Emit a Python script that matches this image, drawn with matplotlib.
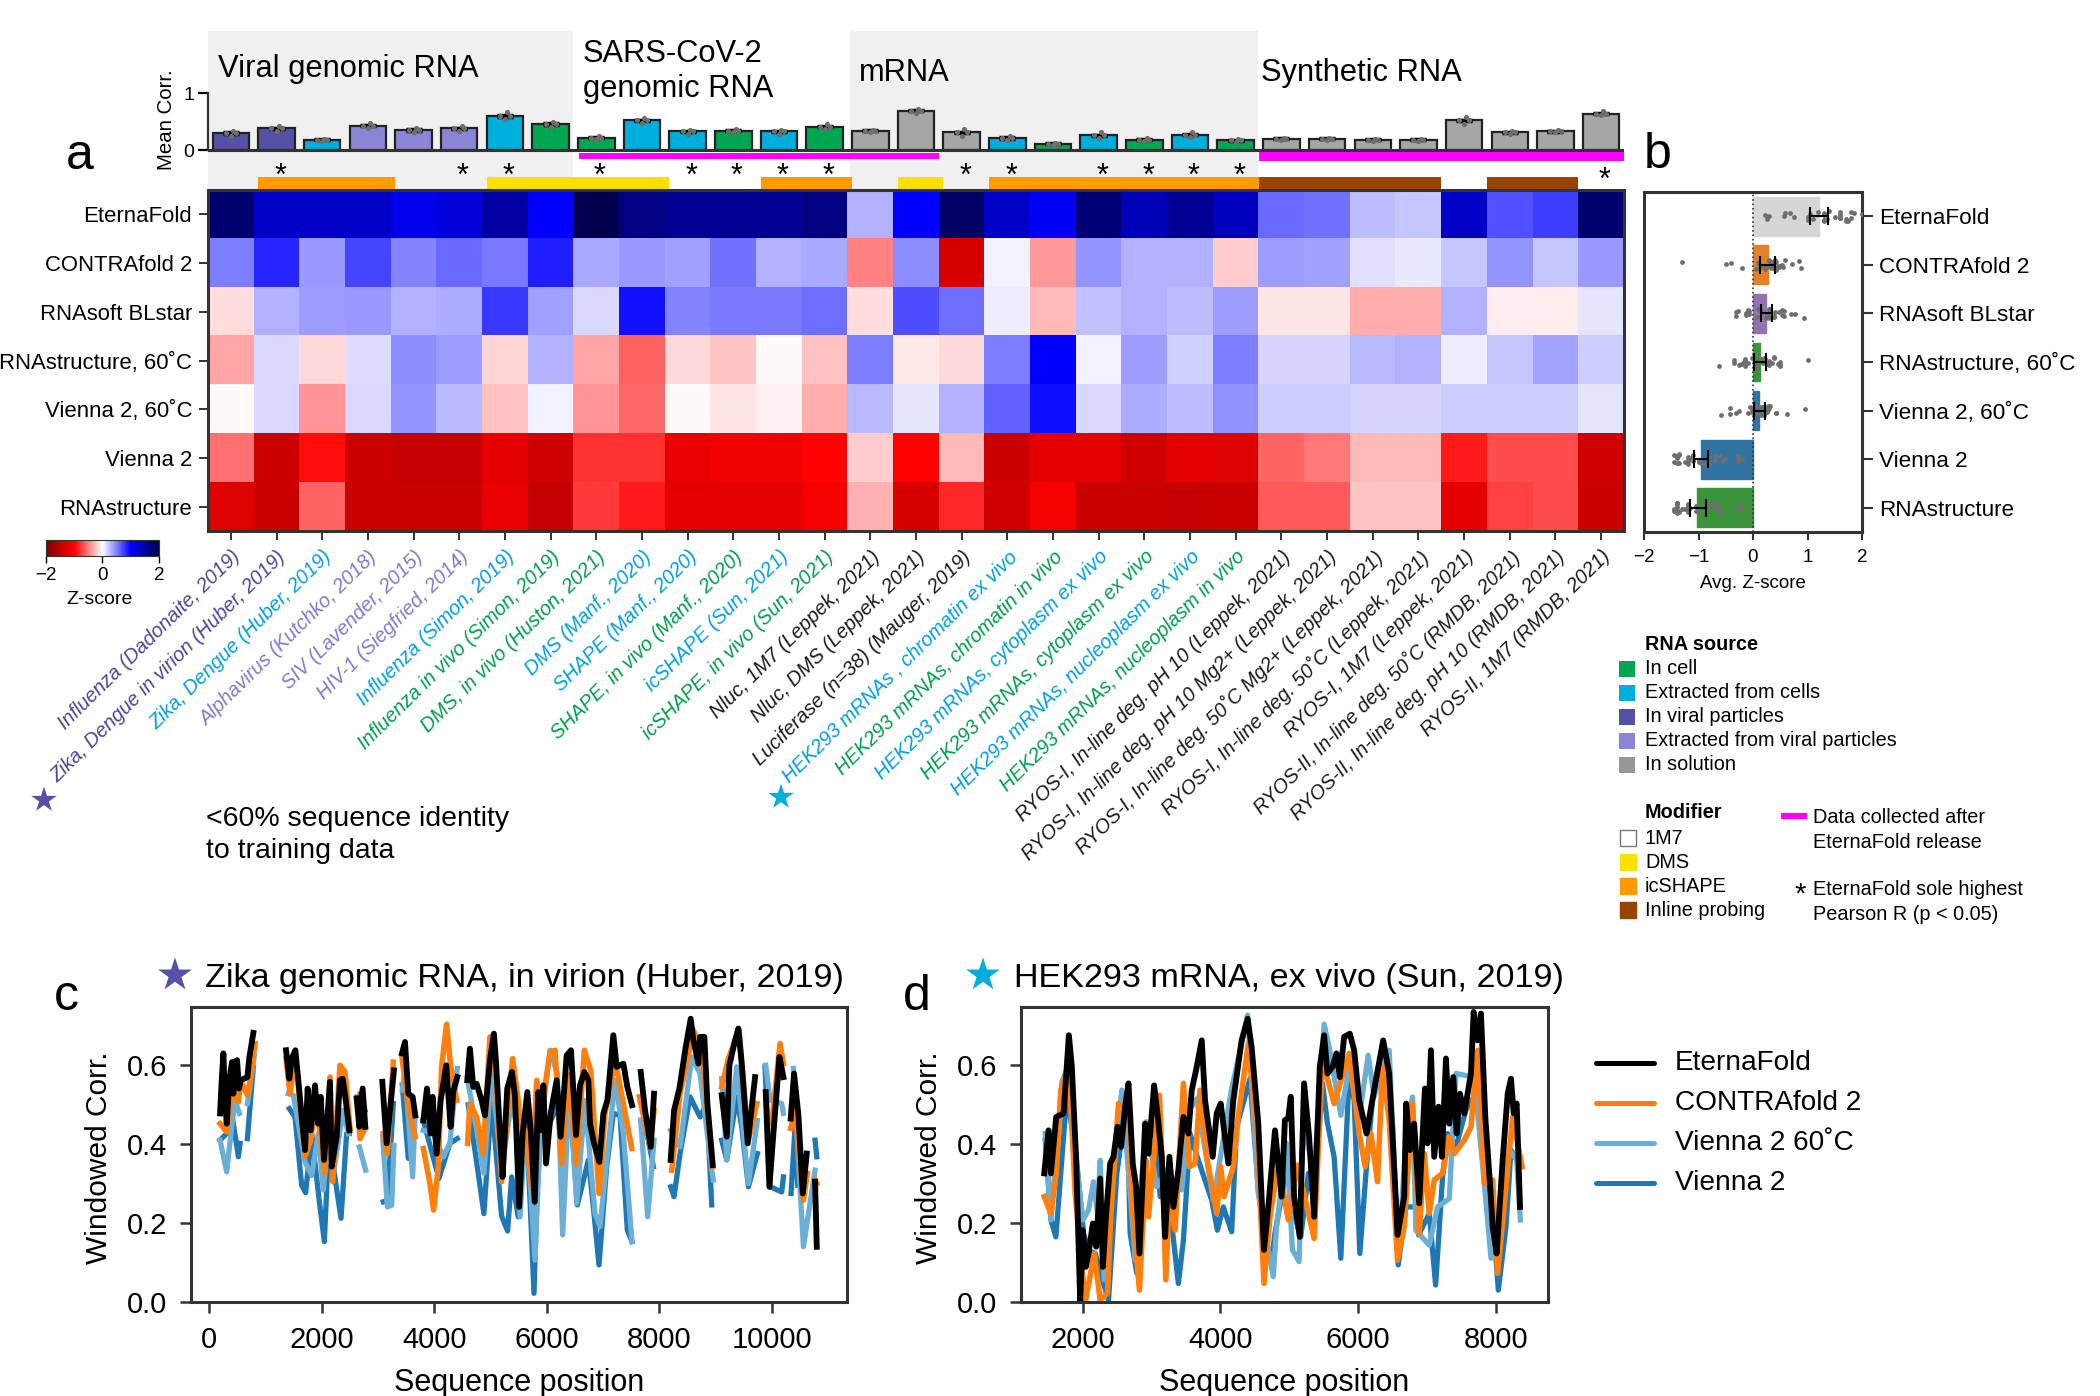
# -*- coding: utf-8 -*-
"""Benchmark summary figure: heatmap, average scores and windowed correlation."""
import numpy as np
from matplotlib import pyplot as plt
from matplotlib.patches import Rectangle
from matplotlib.transforms import ScaledTranslation

nan = float('nan')

packages = ['EternaFold', 'CONTRAfold 2', 'RNAsoft BLstar', 'RNAstructure, 60\u02daC',
            'Vienna 2, 60\u02daC', 'Vienna 2', 'RNAstructure']

datasets = [
    'Influenza (Dadonaite, 2019)', 'Zika, Dengue in virion (Huber, 2019)',
    'Zika, Dengue (Huber, 2019)', 'Alphavirus (Kutchko, 2018)',
    'SIV (Lavender, 2015)', 'HIV-1 (Siegfried, 2014)',
    'Influenza (Simon, 2019)', 'Influenza in vivo (Simon, 2019)',
    'DMS, in vivo (Huston, 2021)', 'DMS (Manf., 2020)', 'SHAPE (Manf., 2020)',
    'SHAPE, in vivo (Manf., 2020)', 'icSHAPE (Sun, 2021)',
    'icSHAPE, in vivo (Sun, 2021)', 'Nluc, 1M7 (Leppek, 2021)',
    'Nluc, DMS (Leppek, 2021)', 'Luciferase (n=38) (Mauger, 2019)',
    'HEK293 mRNAs , chromatin ex vivo', 'HEK293 mRNAs, chromatin in vivo',
    'HEK293 mRNAs, cytoplasm ex vivo', 'HEK293 mRNAs, cytoplasm ex vivo',
    'HEK293 mRNAs, nucleoplasm ex vivo', 'HEK293 mRNAs, nucleoplasm in vivo',
    'RYOS-I, In-line deg. pH 10 (Leppek, 2021)',
    'RYOS-I, In-line deg. pH 10 Mg2+ (Leppek, 2021)',
    'RYOS-I, In-line deg. 50\u02daC Mg2+ (Leppek, 2021)',
    'RYOS-I, In-line deg. 50\u02daC (Leppek, 2021)',
    'RYOS-I, 1M7 (Leppek, 2021)',
    'RYOS-II, In-line deg. 50\u02daC (RMDB, 2021)',
    'RYOS-II, In-line deg. pH 10 (RMDB, 2021)',
    'RYOS-II, 1M7 (RMDB, 2021)',
]

sources = ['vir', 'vir', 'ext', 'evp', 'evp', 'evp', 'ext', 'cell', 'cell', 'ext',
           'ext', 'cell', 'ext', 'cell', 'sol', 'sol', 'sol', 'ext', 'cell', 'ext',
           'cell', 'ext', 'cell', 'sol', 'sol', 'sol', 'sol', 'sol', 'sol', 'sol',
           'sol']
modifiers = ['1M7', 'ic', 'ic', 'ic', '1M7', '1M7', 'DMS', 'DMS', 'DMS', 'DMS',
             '1M7', '1M7', 'ic', 'ic', '1M7', 'DMS', '1M7', 'ic', 'ic', 'ic', 'ic',
             'ic', 'ic', 'inl', 'inl', 'inl', 'inl', '1M7', 'inl', 'inl', '1M7']
after_release = [8, 9, 10, 11, 12, 13, 14, 15, 23, 24, 25, 26, 27, 28, 29, 30]
sole_highest = [1, 5, 6, 8, 10, 11, 12, 13, 16, 17, 19, 20, 21, 22, 30]

mean_corr = [.30, .38, .18, .43, .35, .38, .60, .46, .22, .52, .33, .34, .33, .41,
             .34, .69, .31, .21, .11, .26, .18, .27, .17, .20, .20, .18, .18, .52,
             .31, .33, .64]
corr_low = [.25, .33, .15, .38, .31, .33, .54, .41, .19, .48, .29, .31, .29, .37,
            .32, .65, .25, .17, .09, .22, .15, .23, .14, .17, .17, .16, .16, .46,
            .29, .31, .61]
corr_high = [.34, .43, .20, .48, .39, .43, .67, .50, .25, .56, .36, .37, .36, .45,
             .36, .73, .37, .24, .13, .31, .21, .32, .20, .22, .22, .20, .20, .58,
             .33, .35, .68]

z_eternafold = [1.8, 1.3, 1.3, 1.3, 1.1, 1.2, 1.5, 1.0, 2.0, 1.7, 1.6, 1.6, 1.6, 1.7,
                .3, 1.0, 1.85, 1.3, 1.05, 1.75, 1.4, 1.6, 1.35, .58, .56, .25, .22,
                1.3, .68, .76, 1.8]
z_contrafold = [.5, .85, .4, .72, .47, .58, .53, .88, .33, .4, .37, .55, .3, .33,
                -.5, .45, -1.3, .05, -.4, .42, .3, .3, -.2, .38, .36, .12, .09, .22,
                .42, .22, .4]
z_rnasoft = [-.13, .3, .38, .4, .3, .32, .77, .37, .15, .93, .48, .53, .53, .57,
             -.13, .7, .57, .07, -.27, .24, .3, .25, .38, -.1, -.1, -.32, -.32, .3,
             -.07, -.07, .1]
z_rnastructure_60 = [-.35, .15, -.15, .13, .45, .38, -.17, .3, -.35, -.62, -.15, -.22,
                     -.02, -.25, .5, -.09, -.15, .5, 1.0, .06, .38, .18, .5, .16, .16,
                     .27, .3, .07, .22, .35, .2]
z_vienna_60 = [-.02, .15, -.42, .15, .42, .27, -.25, .05, -.42, -.58, -.02, -.1, -.05,
               -.32, .27, .1, .3, .62, .95, .15, .32, .25, .43, .19, .19, .16, .16,
               .2, .2, .2, .1]
z_vienna = [-.55, -1.4, -.95, -1.4, -1.45, -1.45, -1.2, -1.35, -.8, -.8, -1.15, -1.1,
            -1.1, -1.0, -.2, -1.0, -.28, -1.4, -1.2, -1.2, -1.35, -1.2, -1.25, -.6,
            -.52, -.27, -.27, -.9, -.7, -.7, -1.35]
z_rnastructure = [-1.25, -1.4, -.6, -1.4, -1.4, -1.4, -1.15, -1.45, -.78, -.9, -1.2,
                  -1.2, -1.2, -1.05, -.3, -1.3, -.83, -1.35, -1.05, -1.4, -1.4, -1.45,
                  -1.4, -.65, -.65, -.22, -.22, -1.2, -.75, -.7, -1.4]

avg_z = [1.21, .27, .24, .12, .11, -.95, -1.02]
avg_z_low = [1.05, .12, .15, .02, .01, -1.08, -1.15]
avg_z_high = [1.37, .40, .35, .23, .22, -.82, -.87]
avg_z_colors = ['#d6d6d6', '#e1812c', '#9372b2', '#3a923a', '#3274a1', '#3274a1',
                '#3a923a']
strip_offsets = [.03, -.07, .08, -.02, .05, -.09, .01, .07, -.05, .09, -.03, .04, -.08,
                 .06, -.01, .02, -.06, .08, -.04, .1, -.1, .03, .06, -.07, .0, .05,
                 -.03, .09, -.06, .02, -.09]

# Panel c, Zika genomic RNA
c_black_x = [190, 219, 249, 279, 308, 356, 403, 427, 450, 492, 527, 557, 676, 711, 782,
             nan, 1363, 1422, 1464, 1529, 1582, 1653, 1701, 1748, 1802, 1879, 1932,
             1979, 2039, 2086, 2145, 2175, 2264, 2323, 2370, 2418, 2489, nan, 2619,
             2667, 2726, 2773, nan, 3076, 3153, 3212, 3283, nan, 3425, 3479, 3538,
             3615, 3662, nan, 3805, 3870, 3935, 3970, 4042, 4113, 4213, 4290, 4338, 4409,
             nan, 4587, 4634, 4693, 4753, 4842, 4901, 4990, 5061, 5096, 5168, 5215,
             5298, 5381, 5434, 5511, 5572, 5655, 5715, 5786, 5851, 5910, 5940, 5988,
             6071, 6177, 6248, 6355, 6432, 6521, 6592, 6669, 6741, 6770, 6841, 6936,
             7008, 7079, 7185, 7245, 7363, 7434, 7517, nan, 7672, 7749, 7850, 7909,
             nan, 8205, 8265, 8360, 8472, 8561, 8609, 8698, 8727, 8804, 8858, 8953,
             nan, 9113, 9202, 9249, 9350, 9409, 9468, 9575, 9706, nan, 9895, 9961,
             10032, 10139, 10210, nan, 10340, 10399, 10477, 10554, 10625, nan, 10773,
             10803]
c_black_y = [.478, .562, .63, .511, .452, .566, .608, .528, .608, .613, .541, .562, .57,
             .62, .682, nan, .638, .566, .617, .638, .562, .452, .385, .541, .435, .549,
             .452, .52, .36, .444, .558, .343, .419, .562, .566, .52, .435, nan, .516,
             .444, .541, .444, nan, .558, .402, .486, .587, nan, .63, .659, .528, .52,
             .473, nan, .46, .541, .427, .52, .376, .511, .6, .444, .534, .57, nan, .562,
             .642, .545, .553, .511, .473, .613, .68, .613, .427, .317, .541, .583,
             .524, .241, .427, .532, .435, .254, .532, .435, .549, .351, .478, .562,
             .419, .625, .638, .423, .549, .583, .562, .452, .402, .355, .478, .511,
             .676, .596, .604, .545, .499, nan, .583, .486, .393, .528, nan, .36, .486,
             .541, .646, .718, .663, .604, .672, .672, .503, .347, nan, .524, .419, .6,
             .663, .693, .604, .402, .57, nan, .532, .292, .427, .621, .57, nan, .465,
             .579, .473, .275, .376, nan, .305, .14]
c_orange_x = [190, 308, 397, 516, 557, 676, 723, 812, nan, 1363, 1434, 1529, 1701, 1802,
              1896, 2056, 2145, 2193, 2323, 2412, 2501, nan, 2637, 2679, 2767, nan, 3093,
              3165, 3271, nan, 3425, 3538, 3656, nan, 3805, 3923, 3988, 4071, 4130,
              4219, 4290, 4397, nan, 4593, 4634, 4753, 4871, 4990, 5061, 5197, 5393,
              5493, 5525, 5614, 5733, 5822, 5910, 6059, 6148, 6266, 6385, 6533, 6669,
              6782, 6930, 7037, 7215, 7363, 7512, nan, 7648, 7838, 7909, nan, 8223,
              8371, 8609, 8757, 8953, nan, 9113, 9231, 9421, 9587, 9735, nan, 10002,
              10150, 10210, nan, 10340, 10417, 10566, 10637, nan, 10773, 10803]
c_orange_y = [.452, .431, .537, .507, .56, .524, .562, .655, nan, .617, .528, .625,
              .368, .41, .511, .326, .57, .305, .6, .583, .44, nan, .52, .414, .44, nan,
              .427, .376, .608, nan, .62, .495, .419, nan, .389, .3, .233, .343, .596,
              .704, .6, .511, nan, .402, .503, .469, .376, .672, .637, .305, .617, .511,
              .452, .436, .292, .562, .486, .634, .638, .351, .575, .351, .638, .587,
              .275, .478, .613, .503, .389, nan, .52, .393, .486, nan, .334, .528, .689,
              .63, .343, nan, .545, .617, .69, .41, .503, nan, .452, .655, .604, nan,
              .44, .486, .258, .326, nan, .309, .3]
c_light_x = [190, 308, 397, 456, 533, nan, 676, 800, nan, 1404, 1493, 1701, 1820, 1938,
             2027, 2145, 2205, 2382, 2471, nan, 2667, 2780, nan, 3082, 3165, 3242, 3283,
             nan, 3431, 3479, 3615, 3656, nan, 3805, 3982, 4160, 4278, 4409, nan, 4605,
             4765, 4883, 5019, 5197, 5376, 5493, 5525, 5614, 5703, 5792, 5881, 6059,
             6189, 6284, 6403, 6533, 6681, 6859, 6948, 7215, 7363, 7517, nan, 7672, 7796,
             7909, nan, 8205, 8371, 8579, 8727, 8935, 8964, nan, 9113, 9202, 9380, 9587,
             9747, nan, 9895, 9973, 10180, 10210, nan, 10387, 10566, 10773]
c_light_y = [.41, .33, .444, .511, .478, nan, .503, .625, nan, .528, .524, .355, .32,
             .427, .284, .469, .326, .486, .427, nan, .393, .334, nan, .42, .241, .245,
             .397, nan, .537, .587, .317, .46, nan, .435, .427, .368, .402, .592, nan,
             .553, .427, .326, .587, .334, .511, .427, .216, .427, .309, .106, .427,
             .638, .579, .17, .545, .25, .511, .224, .191, .562, .427, .153, nan, .461,
             .216, .41, nan, .435, .393, .621, .579, .334, .309, nan, .566, .36, .596,
             .3, .46, nan, .6, .511, .503, .478, nan, .592, .14, .334]
c_blue_x = [190, 308, 397, 516, 545, nan, 676, 782, nan, 1422, 1523, 1641, 1712, 1820,
            1956, 2045, 2104, 2205, 2341, 2441, 2489, nan, 2690, 2767, nan, 3093, 3165,
            3271, nan, 3431, 3538, 3615, nan, 3805, 4083, 4278, 4409, nan, 4605, 4765,
            4883, 5019, 5197, 5304, 5376, 5493, 5525, 5632, 5703, 5774, 5822, 5881, 6296,
            6414, 6545, 6741, 6841, 6930, 7067, 7185, 7304, 7434, 7517, nan, 7689, 7808,
            7897, nan, 8205, 8265, 8371, 8549, 8727, 8846, 8935, nan, 9113, 9202, 9380,
            9468, 9587, 9747, nan, 9883, 9973, 10180, 10210, nan, 10346, 10417, 10465,
            nan, 10773, 10803]
c_blue_y = [.41, .427, .478, .368, .402, nan, .414, .596, nan, .49, .469, .296, .277,
            .427, .254, .153, .343, .343, .212, .427, .427, nan, .528, .486, nan, .254,
            .257, .503, nan, .55, .364, .393, nan, .46, .313, .402, .414, nan, .5, .343,
            .224, .511, .218, .18, .317, .216, .292, .469, .258, .022, .258, .402, .528,
            .511, .246, .36, .224, .094, .343, .478, .473, .182, .153, nan, .461, .41,
            .343, nan, .292, .267, .376, .52, .469, .503, .246, nan, .41, .36, .52, .444,
            .292, .376, nan, .596, .292, .279, .317, nan, .275, .444, .296, nan, .41, .368]

# Panel d, HEK293 mRNA
d_black_x = [1444, 1507, 1541, 1618, 1725, 1802, 1845, 1908, 1966, 2005, 2048, 2087, 2150,
             2198, 2256, 2295, 2343, 2401, 2449, 2507, 2560, 2618, 2667, 2729, 2777, 2826,
             2908, 2957, 3039, 3087, 3150, 3198, 3261, 3319, 3391, 3464, 3536, 3585, 3647,
             3730, 3778, 3889, 3947, 4005, 4116, 4188, 4309, 4396, 4454, 4551, 4633, 4696,
             4793, 4889, 4937, 4986, 5022, 5070, 5152, 5215, 5288, 5361, 5443, 5506, 5555,
             5628, 5685, 5734, 5797, 5879, 5942, 6015, 6121, 6257, 6363, 6450, 6547, 6571,
             6668, 6697, 6751, 6813, 6886, 6969, 7007, 7056, 7104, 7167, 7216, 7274, 7322,
             7380, 7429, 7477, 7540, 7637, 7676, 7734, 7782, 7845, 7913, 7952, 8010, 8097,
             8170, 8218, 8257, 8300, 8349]
d_black_y = [.326, .435, .326, .469, .478, .676, .596, .359, .0, .182, .089, .123, .199,
             .14, .313, .089, .224, .351, .368, .444, .393, .495, .554, .351, .292, .123,
             .452, .376, .549, .478, .368, .165, .368, .241, .334, .469, .427, .537, .587,
             .663, .511, .368, .478, .503, .351, .511, .663, .718, .646, .452, .132, .241,
             .435, .267, .461, .466, .52, .267, .165, .554, .419, .216, .596, .676, .579,
             .596, .63, .57, .672, .68, .638, .511, .427, .562, .663, .579, .258, .17,
             .267, .503, .385, .452, .25, .541, .402, .638, .368, .495, .368, .617, .452,
             .57, .427, .528, .478, .579, .735, .663, .731, .469, .3, .191, .123, .359,
             .528, .566, .478, .503, .241]
d_orange_x = [1444, 1541, 1618, 1686, 1802, 1893, 2039, 2135, 2169, 2256, 2362, 2411, 2522,
              2570, 2667, 2715, 2826, 2923, 2957, 3116, 3174, 3208, 3261, 3343, 3464, 3551,
              3633, 3705, 3802, 3947, 4005, 4053, 4188, 4260, 4406, 4536, 4633, 4720, 4841,
              4986, 5119, 5361, 5482, 5651, 5869, 6015, 6102, 6184, 6281, 6354, 6450, 6571,
              6668, 6789, 6886, 6959, 7032, 7104, 7225, 7322, 7395, 7540, 7637, 7734, 7831,
              7952, 8024, 8145, 8242, 8378]
d_orange_y = [.267, .224, .326, .537, .604, .275, .0, .089, .123, .005, .022, .224, .503,
              .486, .511, .258, .03, .359, .216, .524, .267, .056, .275, .182, .554, .343,
              .351, .537, .368, .224, .343, .267, .343, .469, .655, .41, .047, .216, .351,
              .208, .347, .161, .613, .503, .63, .427, .343, .427, .305, .596, .461, .106,
              .191, .503, .174, .376, .224, .309, .326, .419, .376, .41, .444, .638, .3,
              .309, .073, .292, .469, .343]
d_light_x = [1459, 1541, 1700, 1802, 1908, 2005, 2087, 2159, 2217, 2256, 2314, 2411, 2570,
             2715, 2763, 2923, 3077, 3213, 3440, 3560, 3657, 3899, 4164, 4396, 4551, 4696,
             4768, 4816, 4961, 5046, 5143, 5215, 5264, 5361, 5506, 5579, 5748, 5869, 6015,
             6145, 6232, 6354, 6450, 6547, 6596, 6693, 6789, 6837, 7032, 7153, 7322, 7419,
             7685, 7831, 7928, 8024, 8194, 8300, 8354]
d_light_y = [.427, .208, .558, .60, .359, .208, .233, .305, .224, .359, .056, .258, .537,
             .224, .106, .457, .292, .334, .284, .49, .515, .258, .541, .727, .275, .132,
             .064, .191, .402, .132, .102, .554, .402, .326, .704, .646, .473, .596, .469,
             .625, .52, .596, .638, .258, .132, .42, .52, .182, .144, .241, .262, .579,
             .57, .3, .111, .115, .385, .36, .208]
d_blue_x = [1459, 1541, 1613, 1773, 1908, 2015, 2087, 2183, 2304, 2377, 2498, 2643, 2691,
            2787, 2908, 3053, 3126, 3223, 3309, 3391, 3464, 3560, 3633, 3744, 3875, 3957,
            4043, 4164, 4237, 4430, 4551, 4647, 4744, 4792, 4986, 5070, 5167, 5278, 5361,
            5482, 5555, 5651, 5748, 5869, 5942, 6024, 6121, 6208, 6363, 6501, 6581, 6693,
            6837, 6877, 7032, 7124, 7225, 7298, 7419, 7564, 7734, 7831, 7952, 8034, 8145,
            8218, 8300, 8339]
d_blue_y = [.41, .208, .165, .528, .368, .174, .131, .123, .047, .005, .326, .511, .174,
            .073, .394, .444, .267, .334, .174, .047, .157, .427, .385, .326, .258, .182,
            .241, .178, .444, .566, .284, .157, .106, .174, .359, .224, .165, .326, .258,
            .554, .452, .368, .111, .575, .511, .123, .343, .511, .655, .444, .094, .241,
            .241, .17, .224, .043, .317, .427, .393, .486, .537, .334, .224, .03, .191,
            .385, .36, .343]

line_names = ['EternaFold', 'CONTRAfold 2', 'Vienna 2 60\u02daC', 'Vienna 2']
line_colors = ['black', '#ff7f0e', '#6baed6', '#1f78b4']

source_colors = {'cell': '#00a651', 'ext': '#00aedb', 'vir': '#5551a6', 'evp': '#8a85d4',
                 'sol': '#a6a6a6'}
label_colors = {'cell': '#009e4a', 'ext': '#00a0dc', 'vir': '#4a46a0', 'evp': '#7f7ad0',
                'sol': '#1a1a1a'}
modifier_colors = {'DMS': '#ffe100', 'ic': '#ff9a00', 'inl': '#964500'}
DARK = '#333333'
W, H = 2100, 1396

plt.rcParams['font.family'] = ['Liberation Sans', 'DejaVu Sans']
plt.rcParams['axes.linewidth'] = 2.2
plt.rcParams['axes.edgecolor'] = DARK


def px_axes(fig, left, top, right, bottom):
    """Add axes placed by their pixel edges."""
    return fig.add_axes([left / W, 1 - bottom / H, (right - left) / W, (bottom - top) / H])


def draw_bars(ax):
    """Draw the mean correlation bars with their annotation strips."""
    xpos = np.arange(len(mean_corr))
    ax.axvspan(-0.5, 7.5, color='#f0f0f0', lw=0, zorder=0)
    ax.axvspan(13.55, 22.48, color='#f0f0f0', lw=0, zorder=0)
    ax.bar(xpos, mean_corr, width=0.8, color=[source_colors[s] for s in sources],
           edgecolor='#222222', lw=1.6, zorder=2)
    ax.errorbar(xpos, mean_corr, yerr=0.012, fmt='none', ecolor='black', elinewidth=2,
                capsize=6, capthick=2.5, zorder=3)
    for i in xpos:
        ax.scatter([i - 0.11, i, i + 0.11, i + 0.05],
                   [mean_corr[i], corr_low[i], mean_corr[i], corr_high[i]],
                   s=14, color='#6e6e6e', lw=0, zorder=4)
    ax.axhline(0, color=DARK, lw=2.2, zorder=5)
    for i in after_release:
        start = i - 0.37 if i == 8 else i - 0.5
        low, high = (-0.16, -0.05) if i < 23 else (-0.19, -0.03)
        ax.add_patch(Rectangle((start, low), i + 0.5 - start, high - low, color='#ff00ff',
                               lw=0, zorder=3))
    for i, mod in enumerate(modifiers):
        if mod in modifier_colors:
            shift = 0.0 if mod == 'inl' else 0.1
            ax.add_patch(Rectangle((i - 0.5 + shift, -0.68), 1, 0.2, lw=0,
                                   zorder=4 if mod == 'inl' else 3,
                                   color=modifier_colors[mod]))
    for i in sole_highest:
        ypos = -0.54 if i == 30 else -0.47
        ax.text(i + 0.08, ypos, '*', ha='center', va='center', fontsize=22, color='black',
                zorder=6)
    ax.set_xlim(-0.5, 30.5)
    ax.set_ylim(-0.704, 2.095)
    for side in ('top', 'right', 'bottom'):
        ax.spines[side].set_visible(False)
    ax.spines['left'].set_bounds(0, 1)
    ax.spines['left'].set_linewidth(1.6)
    ax.set_xticks([])
    ax.set_yticks([0, 1])
    ax.tick_params(axis='y', length=7, width=1.6, labelsize=14, pad=3)
    ax.set_ylabel('Mean Corr.', fontsize=14.7, y=0.44, labelpad=5)
    ax.text(-0.28, 1.43, 'Viral genomic RNA', fontsize=22.2, va='center', zorder=6)
    ax.text(7.7, 1.38, 'SARS-CoV-2\ngenomic RNA', fontsize=22.2, va='center',
            linespacing=1.25, zorder=6)
    ax.text(13.76, 1.36, 'mRNA', fontsize=22.2, va='center', zorder=6)
    ax.text(22.55, 1.36, 'Synthetic RNA', fontsize=22.2, va='center', zorder=6)


def draw_heatmap(fig, ax):
    """Draw the z-score heatmap and its colorbar."""
    table = np.array([z_eternafold, z_contrafold, z_rnasoft, z_rnastructure_60, z_vienna_60,
                      z_vienna, z_rnastructure])
    image = ax.imshow(table, aspect='auto', cmap='seismic_r', vmin=-2, vmax=2,
                      interpolation='nearest')
    ax.set_yticks(np.arange(len(packages)))
    ax.set_yticklabels(packages, fontsize=15.9)
    ax.set_xticks(np.arange(len(datasets)))
    ax.set_xticklabels(datasets, fontsize=14.4, rotation=44.5, ha='right', va='top',
                       rotation_mode='anchor', style='italic')
    shift = ScaledTranslation(0.18, -0.11, fig.dpi_scale_trans)
    for label, src in zip(ax.get_xticklabels(), sources):
        label.set_color(label_colors[src])
        label.set_transform(label.get_transform() + shift)
    ax.tick_params(axis='both', length=6.5, width=1.4, color=DARK, pad=5)
    cax = px_axes(fig, 46, 540, 159, 556)
    bar = fig.colorbar(image, cax=cax, orientation='horizontal')
    bar.set_ticks([-2, 0, 2])
    bar.set_ticklabels(['\u22122', '0', '2'])
    bar.ax.tick_params(labelsize=13.5, length=5, width=1, pad=3)
    bar.outline.set_linewidth(0.8)
    bar.set_label('Z-score', fontsize=14, labelpad=5, x=0.47)


def draw_average(ax):
    """Draw the average z-score bars and the per-dataset points."""
    rows = [z_eternafold, z_contrafold, z_rnasoft, z_rnastructure_60, z_vienna_60, z_vienna,
            z_rnastructure]
    ypos = np.arange(len(packages))
    ax.barh(ypos, avg_z, height=0.8, color=avg_z_colors, edgecolor=avg_z_colors, lw=1,
            zorder=1)
    ax.axvline(0, color=DARK, lw=1.2, ls=':', zorder=2)
    for y, row in zip(ypos, rows):
        ax.scatter(row, y + np.array(strip_offsets), s=12, color='#6e6e6e', lw=0, zorder=3)
    ax.errorbar(avg_z, ypos, xerr=[np.array(avg_z) - avg_z_low, np.array(avg_z_high) - avg_z],
                fmt='none', ecolor='black', elinewidth=1.5, capsize=6.5, capthick=1.5, zorder=4)
    ax.set_xlim(-2, 2)
    ax.set_ylim(6.5, -0.5)
    ax.set_xticks([-2, -1, 0, 1, 2])
    ax.set_yticks(ypos)
    ax.set_yticklabels(packages, fontsize=16.2)
    ax.yaxis.tick_right()
    ax.tick_params(axis='y', length=8, width=1.5, color=DARK, pad=4)
    ax.tick_params(axis='x', length=6, width=1.5, color=DARK, labelsize=13.5, pad=6)
    ax.set_xlabel('Avg. Z-score', fontsize=13.5, labelpad=7)


def draw_windowed(ax, series, xticks, xlim):
    """Draw one windowed correlation panel."""
    for (xval, yval), color, width in zip(series, line_colors[::-1], (3.8, 3.8, 4.0, 4.2)):
        ax.plot(xval, yval, color=color, lw=width, solid_joinstyle='round')
    ax.set_xlim(*xlim)
    ax.set_ylim(0, 0.7476)
    ax.set_xticks(xticks)
    ax.set_yticks([0, 0.2, 0.4, 0.6])
    ax.tick_params(axis='both', length=8, width=1.8, color=DARK, labelsize=21, pad=9)
    ax.set_xlabel('Sequence position', fontsize=22, labelpad=10)
    ax.set_ylabel('Windowed Corr.', fontsize=21.5, y=0.49, labelpad=10)


def draw_overlay(ax):
    """Draw the legends, the stars and the free text in pixel coordinates."""
    ax.set_xlim(0, W)
    ax.set_ylim(H, 0)
    ax.axis('off')
    for xpos, ypos, text in ((80, 156, 'a'), (1658, 155, 'b'), (66, 997, 'c'), (917, 997, 'd')):
        ax.text(xpos, ypos, text, fontsize=36, ha='center', va='center')
    ax.scatter([44, 175], [800, 975], marker='*', s=[370, 650], color=source_colors['vir'],
               lw=0)
    ax.scatter([781, 983], [797, 975], marker='*', s=[370, 650], color=source_colors['ext'],
               lw=0)
    ax.text(205, 978, 'Zika genomic RNA, in virion (Huber, 2019)', fontsize=24.6, va='center')
    ax.text(1014, 978, 'HEK293 mRNA, ex vivo (Sun, 2019)', fontsize=24.6, va='center')
    ax.text(206, 835, '<60% sequence identity\nto training data', fontsize=20.5, va='center',
            linespacing=1.35)

    ax.text(1645, 645, 'RNA source', fontsize=14.3, weight='bold', va='center')
    source_items = [('In cell', '#00a651'), ('Extracted from cells', '#00aedb'),
                    ('In viral particles', '#5551a6'),
                    ('Extracted from viral particles', '#8a85d4'), ('In solution', '#969696')]
    for (name, color), ypos in zip(source_items, (669, 693, 717, 741, 765)):
        ax.add_patch(Rectangle((1619, ypos - 8), 16, 16, color=color, lw=0))
        ax.text(1645, ypos, name, fontsize=14.3, va='center')
    ax.text(1645, 813, 'Modifier', fontsize=14.3, weight='bold', va='center')
    mod_items = [('1M7', 'white'), ('DMS', '#ffe100'), ('icSHAPE', '#ff9a00'),
                 ('Inline probing', '#964500')]
    for (name, color), ypos in zip(mod_items, (838, 862, 886, 910)):
        edge = '#777777' if color == 'white' else color
        ax.add_patch(Rectangle((1619.5, ypos - 8), 16, 16, facecolor=color, edgecolor=edge, lw=1))
        ax.text(1645, ypos, name, fontsize=14.3, va='center')
    ax.plot([1781, 1807], [816, 816], color='#ff00ff', lw=4.5, solid_capstyle='butt')
    ax.text(1813, 830, 'Data collected after\nEternaFold release', fontsize=14.3, va='center',
            linespacing=1.35)
    ax.text(1800, 895, '*', fontsize=21, ha='center', va='center')
    ax.text(1813, 902, 'EternaFold sole highest\nPearson R (p < 0.05)', fontsize=14.3,
            va='center', linespacing=1.35)

    for name, color, ypos in zip(line_names, line_colors, (1063, 1103, 1143, 1183)):
        ax.plot([1596, 1654], [ypos, ypos], color=color, lw=3.6, solid_capstyle='round')
        ax.text(1675, ypos, name, fontsize=20.2, va='center')


def main():
    """Build the whole figure and save it."""
    fig = plt.figure(figsize=(W / 100, H / 100), dpi=100)
    draw_bars(px_axes(fig, 208, 31, 1624, 190))
    draw_heatmap(fig, px_axes(fig, 208, 190, 1624, 531))
    draw_average(px_axes(fig, 1644, 192, 1862, 532))
    panel_c = px_axes(fig, 191, 1007, 847, 1302)
    draw_windowed(panel_c, [(c_blue_x, c_blue_y), (c_light_x, c_light_y),
                            (c_orange_x, c_orange_y), (c_black_x, c_black_y)],
                  [0, 2000, 4000, 6000, 8000, 10000], (-327, 11341))
    panel_d = px_axes(fig, 1021, 1007, 1548, 1302)
    draw_windowed(panel_d, [(d_blue_x, d_blue_y), (d_light_x, d_light_y),
                            (d_orange_x, d_orange_y), (d_black_x, d_black_y)],
                  [2000, 4000, 6000, 8000], (1107, 8755))
    overlay = fig.add_axes([0, 0, 1, 1], zorder=10)
    draw_overlay(overlay)
    fig.savefig('out.png', dpi=100)


if __name__ == '__main__':
    main()
